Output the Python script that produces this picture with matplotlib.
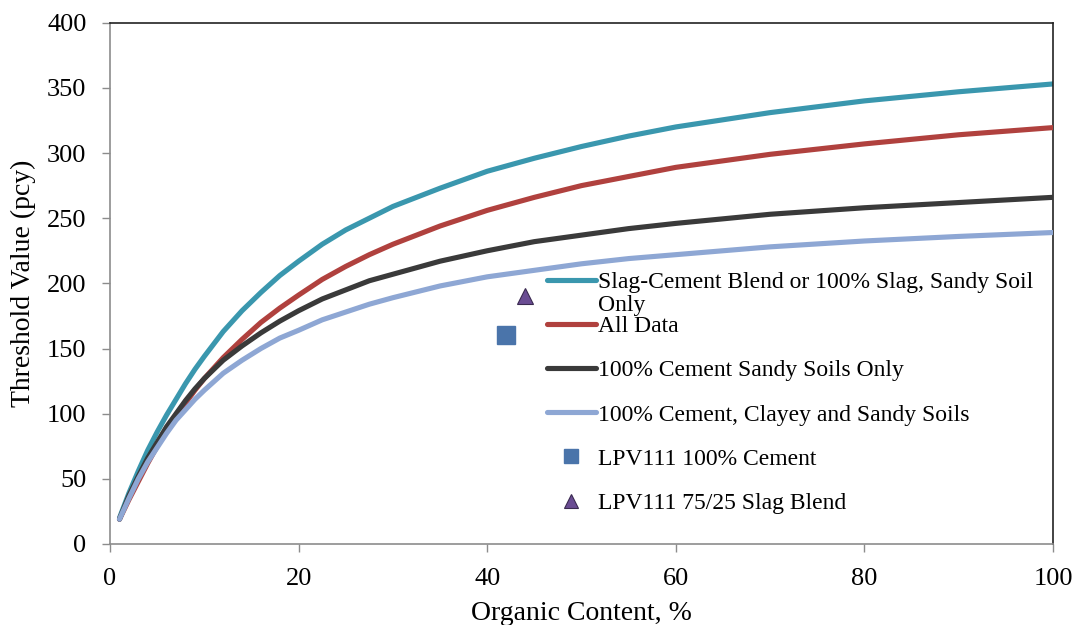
import matplotlib
matplotlib.use("Agg")
import matplotlib.pyplot as plt

plt.rcParams["font.family"] = ["Liberation Serif", "DejaVu Serif"]

organic = [1, 2, 3, 4, 5, 6, 7, 8, 9, 10, 12, 14, 16, 18, 20, 22.5, 25, 27.5, 30,
           35, 40, 45, 50, 55, 60, 70, 80, 90, 100]
slag_sandy = [20, 39, 56, 72, 86, 99, 111, 123, 134, 144, 163, 179, 193, 206, 217, 230, 241, 250, 259,
              273, 286, 296, 305, 313, 320, 331, 340, 347, 353]
all_data = [19, 34, 48, 62, 75, 87, 98, 108, 118, 127, 143, 157, 170, 181, 191, 203, 213, 222, 230,
            244, 256, 266, 275, 282, 289, 299, 307, 314, 319.5]
cement_sandy = [19, 37, 52, 66, 78, 90, 100, 110, 119, 127, 141, 152, 162, 171, 179, 188, 195, 202, 207,
                217, 225, 232, 237, 242, 246, 253, 258, 262, 266]
cement_clay_sandy = [19, 35, 50, 63, 74, 85, 95, 103, 111, 118, 131, 141, 150, 158, 164, 172, 178, 184, 189,
                     198, 205, 210, 215, 219, 222, 228, 232.5, 236, 239]

lpv_cement = (42, 160)
lpv_slag = (44, 190)

curve_labels = ["Slag-Cement Blend or 100% Slag, Sandy Soil", "All Data",
                "100% Cement Sandy Soils Only", "100% Cement, Clayey and Sandy Soils"]
curve_colors = ["#3A97AE", "#B0413E", "#3A3A3A", "#8EA7D4"]

fig = plt.figure(figsize=(10.8, 6.25), dpi=100)
ax = fig.add_axes([0.1019, 0.1296, 0.8731, 0.8341])

for i, (ys, lab, col) in enumerate(zip([slag_sandy, all_data, cement_sandy, cement_clay_sandy],
                                       curve_labels, curve_colors)):
    ax.plot(organic, ys, color=col, lw=3.7, label=lab, zorder=2 + i,
            solid_capstyle="round", solid_joinstyle="round")

ax.plot(*lpv_cement, ls="none", marker="s", ms=13, color="#4A74AA",
        label="LPV111 100% Cement", zorder=10)
ax.plot(*lpv_slag, ls="none", marker="^", ms=12, color="#6A4C93",
        markeredgecolor="#3A2A50", markeredgewidth=0.8,
        label="LPV111 75/25 Slag Blend", zorder=10)

ax.set_xlim(0, 100)
ax.set_ylim(0, 400)
ax.set_xticks(range(0, 101, 20))
ax.set_yticks(range(0, 401, 50))
ax.tick_params(direction="out", length=6, width=1, color="#8C8C8C",
               labelsize=19, pad=11)

for side in ["left", "bottom"]:
    ax.spines[side].set_color("#8C8C8C")
    ax.spines[side].set_linewidth(1.2)
for side in ["top", "right"]:
    ax.spines[side].set_color("#222222")
    ax.spines[side].set_linewidth(1.2)

ax.set_xlabel("Organic Content, %", fontsize=20, labelpad=8)
ax.set_ylabel("Threshold Value (pcy)", fontsize=20, labelpad=8)

leg = ax.legend(loc="upper left", bbox_to_anchor=(0.4535, 0.541), frameon=False,
                fontsize=17, handlelength=2.05, handletextpad=0.1,
                labelspacing=0.96, markerscale=0.8, borderaxespad=0)

# second line of the first legend label sits in the gap below it
fig.canvas.draw()
bb = leg.get_texts()[0].get_window_extent()
fig.text(bb.x0 / fig.bbox.width, (bb.y0 - 2) / fig.bbox.height, "Only",
         fontsize=17, ha="left", va="top")

fig.savefig("out.png", dpi=100)
